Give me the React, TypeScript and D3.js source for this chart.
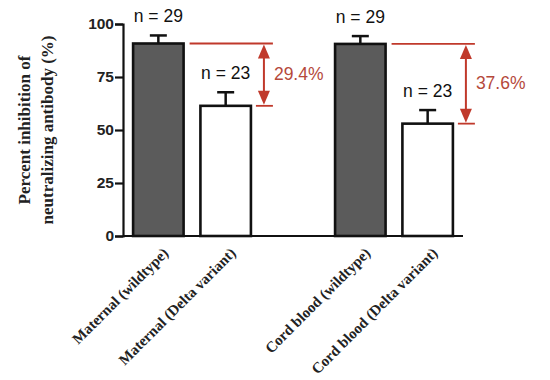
import React, { useEffect, useRef } from "react";
import * as d3 from "d3";

const categories = [
  "Maternal (wildtype)",
  "Maternal (Delta variant)",
  "Cord blood (wildtype)",
  "Cord blood (Delta variant)",
];
const means = [90.8, 61.4, 90.6, 53.0];
const sems = [3.8, 6.4, 3.7, 6.4];
const counts = [29, 23, 29, 23];
const isWildtype = [true, false, true, false];
const yTicks = [0, 25, 50, 75, 100];
// pairs of [wildtype index, delta index, label]
const reductions: [number, number, string][] = [
  [0, 1, "29.4%"],
  [2, 3, "37.6%"],
];

const RED = "#c0392b";
const RED_TEXT = "#b5493b";

export default function App() {
  const ref = useRef<SVGSVGElement>(null);

  useEffect(() => {
    const svg = d3.select(ref.current);
    svg.selectAll("*").remove();

    const left = 123, right = 463, top = 24, bottom = 236;

    // gap slot between the two groups
    const slots = [categories[0], categories[1], "__gap__", categories[2], categories[3]];
    const x = d3.scaleBand<string>()
      .domain(slots)
      .range([left, right])
      .paddingInner(0.25)
      .paddingOuter(0.15);

    const y = d3.scaleLinear().domain([0, 100]).range([bottom, top]);

    const g = svg.append("g");

    // y axis
    const yAxis = g.append("g")
      .attr("transform", `translate(${left},0)`)
      .call(d3.axisLeft(y).tickValues(yTicks).tickSize(8).tickPadding(1));
    yAxis.select(".domain").attr("stroke", "#111").attr("stroke-width", 2.2);
    yAxis.selectAll(".tick line").attr("stroke", "#111").attr("stroke-width", 2.2);
    yAxis.selectAll(".tick text")
      .attr("font-family", "Liberation Sans, Arial, sans-serif")
      .attr("font-weight", "bold")
      .attr("font-size", 15.5)
      .attr("fill", "#222");

    // x baseline
    g.append("line")
      .attr("x1", left).attr("x2", right)
      .attr("y1", bottom).attr("y2", bottom)
      .attr("stroke", "#111").attr("stroke-width", 2.2);

    const data = categories.map((c, i) => ({ c, m: means[i], e: sems[i], n: counts[i], wt: isWildtype[i] }));
    const bw = x.bandwidth();

    // error bars
    const err = g.selectAll("g.err").data(data).enter().append("g").attr("class", "err");
    err.append("line")
      .attr("x1", d => x(d.c)! + bw / 2).attr("x2", d => x(d.c)! + bw / 2)
      .attr("y1", d => y(d.m)).attr("y2", d => y(d.m + d.e))
      .attr("stroke", "#111").attr("stroke-width", 2.5);
    err.append("line")
      .attr("x1", d => x(d.c)! + bw / 2 - 8.5).attr("x2", d => x(d.c)! + bw / 2 + 8.5)
      .attr("y1", d => y(d.m + d.e)).attr("y2", d => y(d.m + d.e))
      .attr("stroke", "#111").attr("stroke-width", 2.5);

    // bars
    g.selectAll("rect.bar").data(data).enter().append("rect")
      .attr("class", "bar")
      .attr("x", d => x(d.c)!)
      .attr("y", d => y(d.m))
      .attr("width", bw)
      .attr("height", d => bottom - y(d.m))
      .attr("fill", d => (d.wt ? "#5b5b5b" : "#fff"))
      .attr("stroke", "#111")
      .attr("stroke-width", 2.6);

    // n labels
    g.selectAll("text.n").data(data).enter().append("text")
      .attr("class", "n")
      .attr("x", d => x(d.c)! + bw / 2)
      .attr("y", d => y(d.m + d.e) - 13)
      .attr("text-anchor", "middle")
      .attr("font-family", "Liberation Sans, Arial, sans-serif")
      .attr("font-size", 17.5)
      .attr("fill", "#111")
      .text(d => `n = ${d.n}`);

    // x labels
    g.selectAll("text.xl").data(data).enter().append("text")
      .attr("class", "xl")
      .attr("transform", d => `translate(${x(d.c)! + bw / 2 + 11},${bottom + 18}) rotate(-45)`)
      .attr("text-anchor", "end")
      .attr("font-family", "Liberation Serif, Times New Roman, serif")
      .attr("font-weight", "bold")
      .attr("font-size", 15)
      .attr("fill", "#222")
      .text(d => d.c);

    // y title
    const title = g.append("text")
      .attr("transform", `translate(30,130) rotate(-90)`)
      .attr("text-anchor", "middle")
      .attr("font-family", "Liberation Serif, Times New Roman, serif")
      .attr("font-weight", "bold")
      .attr("font-size", 17)
      .attr("fill", "#222");
    title.append("tspan").attr("x", 0).attr("dy", 0).text("Percent inhibition of");
    title.append("tspan").attr("x", 0).attr("dy", 22.5).text("neutralizing antibody (%)");

    // reduction annotations
    reductions.forEach(([a, b, label]) => {
      const xa = x(categories[a])! + bw;
      const xb = x(categories[b])! + bw;
      const ya = y(means[a]);
      const yb = y(means[b]);
      const ax = xb + 13;
      const ann = g.append("g");
      ann.append("line")
        .attr("x1", xa + 6).attr("x2", xb + 22)
        .attr("y1", ya).attr("y2", ya)
        .attr("stroke", RED).attr("stroke-width", 1.8);
      ann.append("line")
        .attr("x1", xb + 5).attr("x2", xb + 22)
        .attr("y1", yb).attr("y2", yb)
        .attr("stroke", RED).attr("stroke-width", 1.8);
      ann.append("line")
        .attr("x1", ax).attr("x2", ax)
        .attr("y1", ya + 10).attr("y2", yb - 10)
        .attr("stroke", RED).attr("stroke-width", 2);
      ann.append("path")
        .attr("d", `M${ax},${ya + 1} L${ax - 6},${ya + 15} L${ax + 6},${ya + 15} Z`)
        .attr("fill", RED);
      ann.append("path")
        .attr("d", `M${ax},${yb - 1} L${ax - 6},${yb - 15} L${ax + 6},${yb - 15} Z`)
        .attr("fill", RED);
      ann.append("text")
        .attr("x", xb + 23)
        .attr("y", (ya + yb) / 2 + 5)
        .attr("font-family", "Liberation Sans, Arial, sans-serif")
        .attr("font-size", 17.5)
        .attr("fill", RED_TEXT)
        .text(label);
    });
  }, []);

  return (
    <svg
      ref={ref}
      width={550}
      height={380}
      style={{ position: "absolute", left: 0, top: 0, background: "#fff" }}
    />
  );
}
